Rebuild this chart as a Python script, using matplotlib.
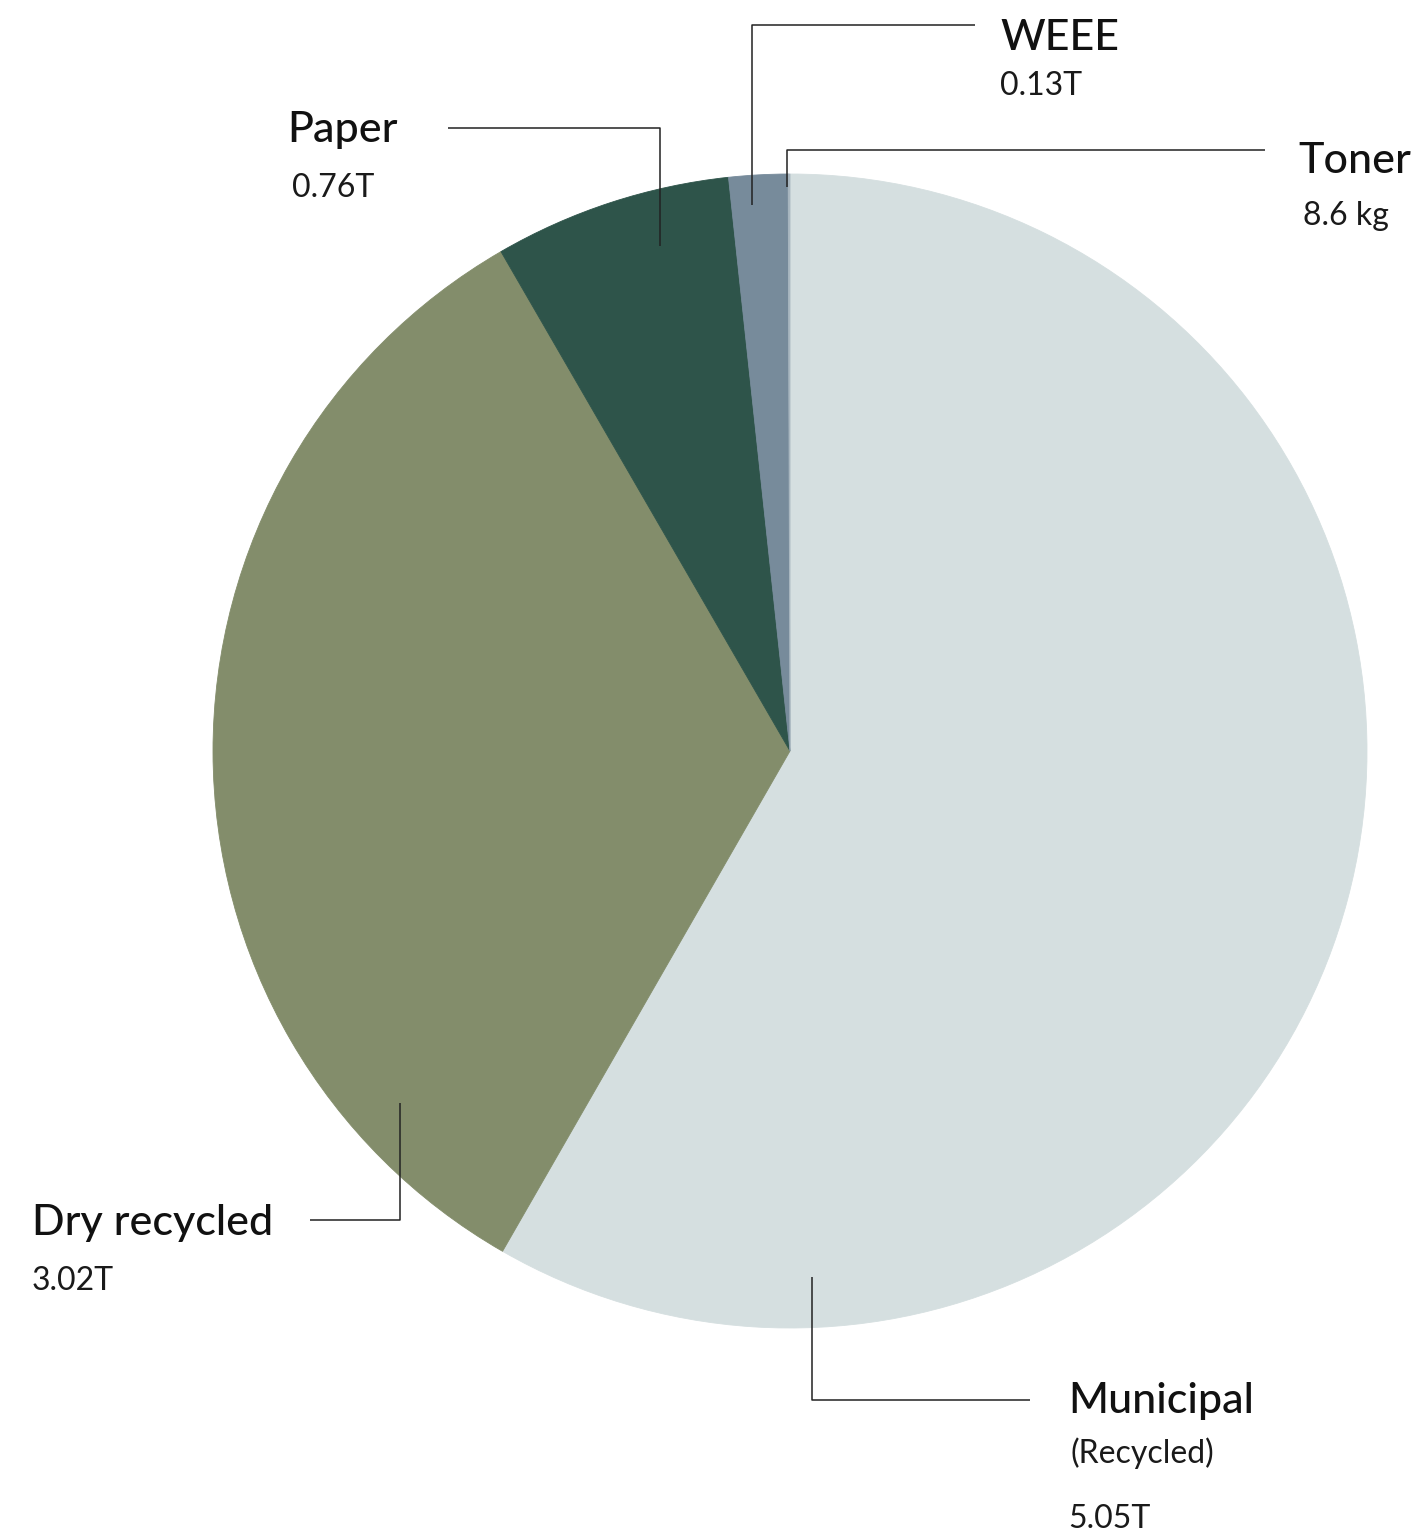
import matplotlib.pyplot as plt
from matplotlib import font_manager

# slice shares (%), labels as printed
categories = ["Municipal", "Dry recycled", "Paper", "WEEE", "Toner"]
shares = [58.3, 33.35, 6.65, 1.65, 0.05]
value_labels = ["5.05T", "3.02T", "0.76T", "0.13T", "8.6 kg"]
colors = ["#d5dfe0", "#838d6b", "#2e544a", "#778b9b", "#a9b7c0"]

W, H = 1424, 1539
fam = "Lato"
names = {f.name for f in font_manager.fontManager.ttflist}
if fam not in names:
    fam = "DejaVu Sans"

fig = plt.figure(figsize=(W / 100, H / 100), dpi=100)
ax = fig.add_axes([0, 0, 1, 1])

# y axis is inverted below, so start at -90 / counterclock gives top start, clockwise on screen
wedges, _ = ax.pie(shares, colors=colors, startangle=-90, counterclock=True,
                   center=(790, 751), radius=577, wedgeprops=dict(linewidth=0.6))
for w in wedges:
    w.set_edgecolor(w.get_facecolor())

ax.set_xlim(0, W)
ax.set_ylim(H, 0)
ax.set_aspect("equal")
ax.axis("off")

line_kw = dict(color="#222222", lw=1.1, solid_capstyle="butt")
# leader lines (pixel coords)
ax.plot([448, 660, 660], [128, 128, 246], **line_kw)      # Paper
ax.plot([975, 752, 752], [25, 25, 205], **line_kw)        # WEEE
ax.plot([1265, 787, 787], [150, 150, 187], **line_kw)     # Toner
ax.plot([310, 400, 400], [1220, 1220, 1103], **line_kw)   # Dry recycled
ax.plot([1030, 812, 812], [1400, 1400, 1277], **line_kw)  # Municipal

name_kw = dict(fontsize=31, fontfamily=fam, fontweight="medium", color="#111111", va="baseline")
val_kw = dict(fontsize=23, fontfamily=fam, fontweight="normal", color="#1a1a1a", va="baseline")

ax.text(287, 142, categories[2], **name_kw)
ax.text(292, 197, value_labels[2], **val_kw)
ax.text(1000, 50, categories[3], **name_kw)
ax.text(1000, 95, value_labels[3], **val_kw)
ax.text(1298, 173, categories[4], **name_kw)
ax.text(1303, 225, value_labels[4], **val_kw)
ax.text(32, 1235, categories[1], **name_kw)
ax.text(32, 1290, value_labels[1], **val_kw)
ax.text(1068, 1413, categories[0], **name_kw)
ax.text(1070, 1463, "(Recycled)", **val_kw)
ax.text(1068, 1528, value_labels[0], **val_kw)

fig.savefig("out.png", dpi=100, facecolor="white")
